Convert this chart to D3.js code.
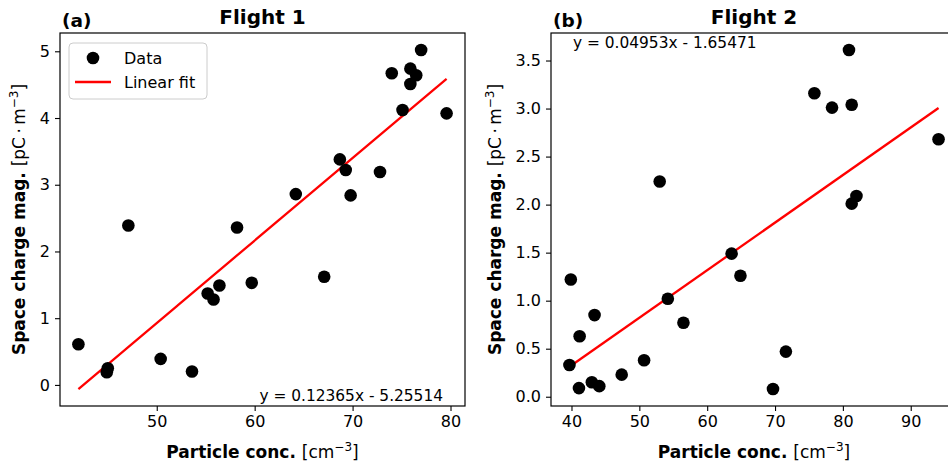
<!DOCTYPE html>
<html>
<head>
<meta charset="utf-8">
<script src="https://cdn.jsdelivr.net/npm/d3@7"></script>
<style>
    body { margin: 0; background: #fff; }
    svg { display: block; font-family: "DejaVu Sans", sans-serif; }
</style>
</head>
<body>
<svg id="chart" width="948" height="468"></svg>
<script>
// Flight 1 data
var flight1X = [42.0, 44.9, 45.0, 47.1, 50.4, 53.6, 55.2, 55.8, 56.4, 58.2, 59.7, 64.2, 67.1, 68.7, 69.3, 69.8, 72.8, 74.0, 75.1, 75.9, 75.9, 76.5, 77.0, 79.6];
var flight1Y = [0.61, 0.19, 0.25, 2.39, 0.39, 0.20, 1.37, 1.28, 1.49, 2.36, 1.53, 2.86, 1.62, 3.38, 3.22, 2.84, 3.19, 4.67, 4.12, 4.74, 4.51, 4.64, 5.02, 4.07];
var flight1Fit = [0.12365, -5.25514];

// Flight 2 data
var flight2X = [39.7, 39.9, 41.1, 41.2, 43.0, 43.4, 44.1, 47.4, 50.7, 53.0, 54.2, 56.5, 63.6, 64.9, 69.7, 71.6, 75.8, 78.4, 80.9, 81.3, 81.3, 82.0, 94.1];
var flight2Y = [0.33, 1.22, 0.09, 0.63, 0.15, 0.85, 0.11, 0.23, 0.38, 2.24, 1.02, 0.77, 1.49, 1.26, 0.08, 0.47, 3.16, 3.01, 3.61, 3.04, 2.01, 2.09, 2.68];
var flight2Fit = [0.04953, -1.65471];

var xTicks1 = [50, 60, 70, 80];
var yTicks1 = [0, 1, 2, 3, 4, 5];
var xTicks2 = [40, 50, 60, 70, 80, 90];
var yTicks2 = [0, 0.5, 1, 1.5, 2, 2.5, 3, 3.5];

var svg = d3.select("#chart");
svg.append("rect").attr("width", 948).attr("height", 468).attr("fill", "#fff");

function padded(lo, hi) {
    var m = (hi - lo) * 0.05;
    return [lo - m, hi + m];
}

function fmtEq(fit) {
    return "y = " + fit[0].toFixed(5) + "x - " + Math.abs(fit[1]).toFixed(5);
}

function panel(opts) {
    var xs = opts.x, ys = opts.y, fit = opts.fit;
    var x0 = d3.min(xs), x1 = d3.max(xs);
    var line = [[x0, fit[0]*x0 + fit[1]], [x1, fit[0]*x1 + fit[1]]];
    var allY = ys.concat(line.map(d => d[1]));

    var x = d3.scaleLinear().domain(padded(x0, x1)).range([opts.left, opts.right]);
    var y = d3.scaleLinear().domain(padded(d3.min(allY), d3.max(allY))).range([opts.bottom, opts.top]);

    var g = svg.append("g");

    var xAxis = g.append("g")
        .attr("transform", `translate(0,${opts.bottom})`)
        .call(d3.axisBottom(x).tickValues(opts.xTicks).tickSize(5).tickPadding(5).tickFormat(d3.format("d")));
    var yAxis = g.append("g")
        .attr("transform", `translate(${opts.left},0)`)
        .call(d3.axisLeft(y).tickValues(opts.yTicks).tickSize(5).tickPadding(5).tickFormat(d3.format(opts.yFormat)));
    [xAxis, yAxis].forEach(a => {
        a.select(".domain").remove();
        a.selectAll("line").attr("stroke", "#000").attr("stroke-width", 1.1);
        a.selectAll("text").attr("font-size", 16).attr("fill", "#000")
            .attr("font-family", "DejaVu Sans");
    });

    // frame
    g.append("rect")
        .attr("x", opts.left).attr("y", opts.top)
        .attr("width", opts.right - opts.left).attr("height", opts.bottom - opts.top)
        .attr("fill", "none").attr("stroke", "#000").attr("stroke-width", 1.2);

    // fit line
    g.append("line")
        .attr("x1", x(line[0][0])).attr("y1", y(line[0][1]))
        .attr("x2", x(line[1][0])).attr("y2", y(line[1][1]))
        .attr("stroke", "#f00").attr("stroke-width", 2.3);

    // data points
    g.selectAll("circle.pt")
        .data(xs.map((v, i) => [v, ys[i]]))
        .join("circle")
        .attr("class", "pt")
        .attr("cx", d => x(d[0])).attr("cy", d => y(d[1]))
        .attr("r", 6.3).attr("fill", "#000");

    // equation
    var eq = g.append("text").attr("font-size", 15.4).attr("fill", "#000").text(fmtEq(fit));
    if (opts.eqPos == "bottom") {
        eq.attr("x", opts.right - 22).attr("y", opts.bottom - 5).attr("text-anchor", "end");
    } else {
        eq.attr("x", opts.left + 22).attr("y", opts.top + 15);
    }

    // titles
    var cx = (opts.left + opts.right) / 2;
    g.append("text").attr("x", cx).attr("y", 24).attr("text-anchor", "middle")
        .attr("font-size", 20).attr("font-weight", "bold").text(opts.title);
    g.append("text").attr("x", opts.left + 2).attr("y", 27)
        .attr("font-size", 18.5).attr("font-weight", "bold").text(opts.tag);

    // x label
    var xl = g.append("text").attr("x", cx).attr("y", 458).attr("text-anchor", "middle").attr("font-size", 17);
    xl.append("tspan").attr("font-weight", "bold").text("Particle conc. ");
    xl.append("tspan").text("[cm");
    xl.append("tspan").attr("font-size", 12).attr("dy", -7).text("\u22123");
    xl.append("tspan").attr("dy", 7).text("]");

    // y label
    var cy = (opts.top + opts.bottom) / 2;
    var yl = g.append("text")
        .attr("transform", `translate(${opts.labelX},${cy}) rotate(-90)`)
        .attr("text-anchor", "middle").attr("font-size", 17);
    yl.append("tspan").attr("font-weight", "bold").text("Space charge mag. ");
    yl.append("tspan").text("[pC\u2009\u00b7\u2009m");
    yl.append("tspan").attr("font-size", 12).attr("dy", -7).text("\u22123");
    yl.append("tspan").attr("dy", 7).text("]");

    return g;
}

var left = panel({
    x: flight1X, y: flight1Y, fit: flight1Fit,
    left: 60, right: 465, top: 33, bottom: 406,
    xTicks: xTicks1, yTicks: yTicks1, yFormat: "d",
    eqPos: "bottom", title: "Flight 1", tag: "(a)", labelX: 25
});

panel({
    x: flight2X, y: flight2Y, fit: flight2Fit,
    left: 551, right: 957, top: 33, bottom: 406,
    xTicks: xTicks2, yTicks: yTicks2, yFormat: ".1f",
    eqPos: "top", title: "Flight 2", tag: "(b)", labelX: 501
});

// legend on panel (a)
var lg = left.append("g").attr("transform", "translate(69,43)");
lg.append("rect").attr("width", 138).attr("height", 56).attr("rx", 4)
    .attr("fill", "#fff").attr("fill-opacity", 0.8).attr("stroke", "#ccc").attr("stroke-width", 1);
lg.append("circle").attr("cx", 24).attr("cy", 15).attr("r", 6.3).attr("fill", "#000");
lg.append("line").attr("x1", 6).attr("x2", 42).attr("y1", 39).attr("y2", 39)
    .attr("stroke", "#f00").attr("stroke-width", 2.3);
lg.append("text").attr("x", 55).attr("y", 21).attr("font-size", 16).text("Data");
lg.append("text").attr("x", 55).attr("y", 45).attr("font-size", 16).text("Linear fit");
</script>
</body>
</html>
